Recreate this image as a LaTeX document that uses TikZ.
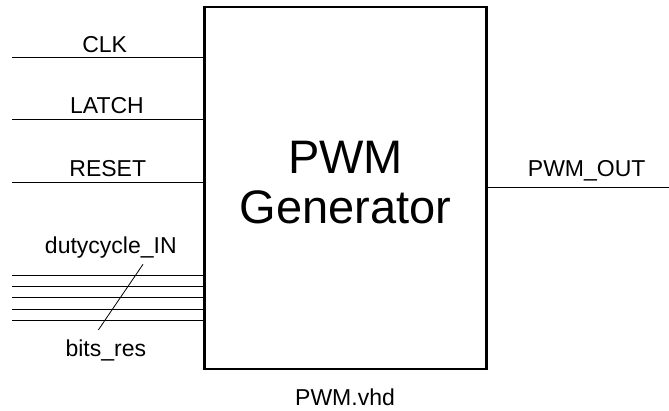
\documentclass[tikz,border=0pt]{standalone}
\usepackage{fontspec}
\setmainfont{Liberation Sans}
\begin{document}
\begin{tikzpicture}[x=1pt,y=-1pt,
  lbl/.style={anchor=base,inner sep=0pt,font=\fontsize{23}{27}\selectfont},
  wire/.style={line width=1pt},
  boxst/.style={draw,line width=2.6pt,minimum width=282pt,minimum height=362pt,inner sep=0pt}]
\useasboundingbox (0,0) rectangle (669,410);
\node[boxst] (box) at (345.5,188) {};
\node[lbl,font=\fontsize{47}{50}\selectfont,align=center] (title) at (345.5,173.3) {PWM};
\node[lbl,font=\fontsize{47}{50}\selectfont] (title2) at (345.5,223.3) {Generator};
% inputs
\coordinate (clkL) at (12,57.5);
\coordinate (latL) at (12,119.5);
\coordinate (rstL) at (12,182.5);
\draw[wire] (clkL) -- (clkL -| box.west);
\draw[wire] (latL) -- (latL -| box.west);
\draw[wire] (rstL) -- (rstL -| box.west);
\node[lbl] (clk) at (104.7,52.3) {CLK};
\node[lbl] (lat) at (107,113.3) {LATCH};
\node[lbl] (rst) at (107.8,176) {RESET};
% bus
\foreach \y [count=\i] in {275,286,297.5,309,320}{
  \coordinate (b\i) at (12,\y);
  \draw[wire] (b\i) -- (b\i -| box.west);
}
\coordinate (s1) at (143,264.3);
\coordinate (s2) at (98.3,330);
\draw[line width=0.8pt] (s1) -- (s2);
\node[lbl] (duty) at (110.8,253.3) {dutycycle\_IN};
\node[lbl] (bits) at (105.8,356) {bits\_res};
% output
\coordinate (outR) at (669,187.3);
\draw[wire] (outR -| box.east) -- (outR);
\node[lbl] (out) at (586.7,176.7) {PWM\_OUT};
\node[lbl] (vhd) at (345,405) {PWM.vhd};
\end{tikzpicture}
\end{document}
